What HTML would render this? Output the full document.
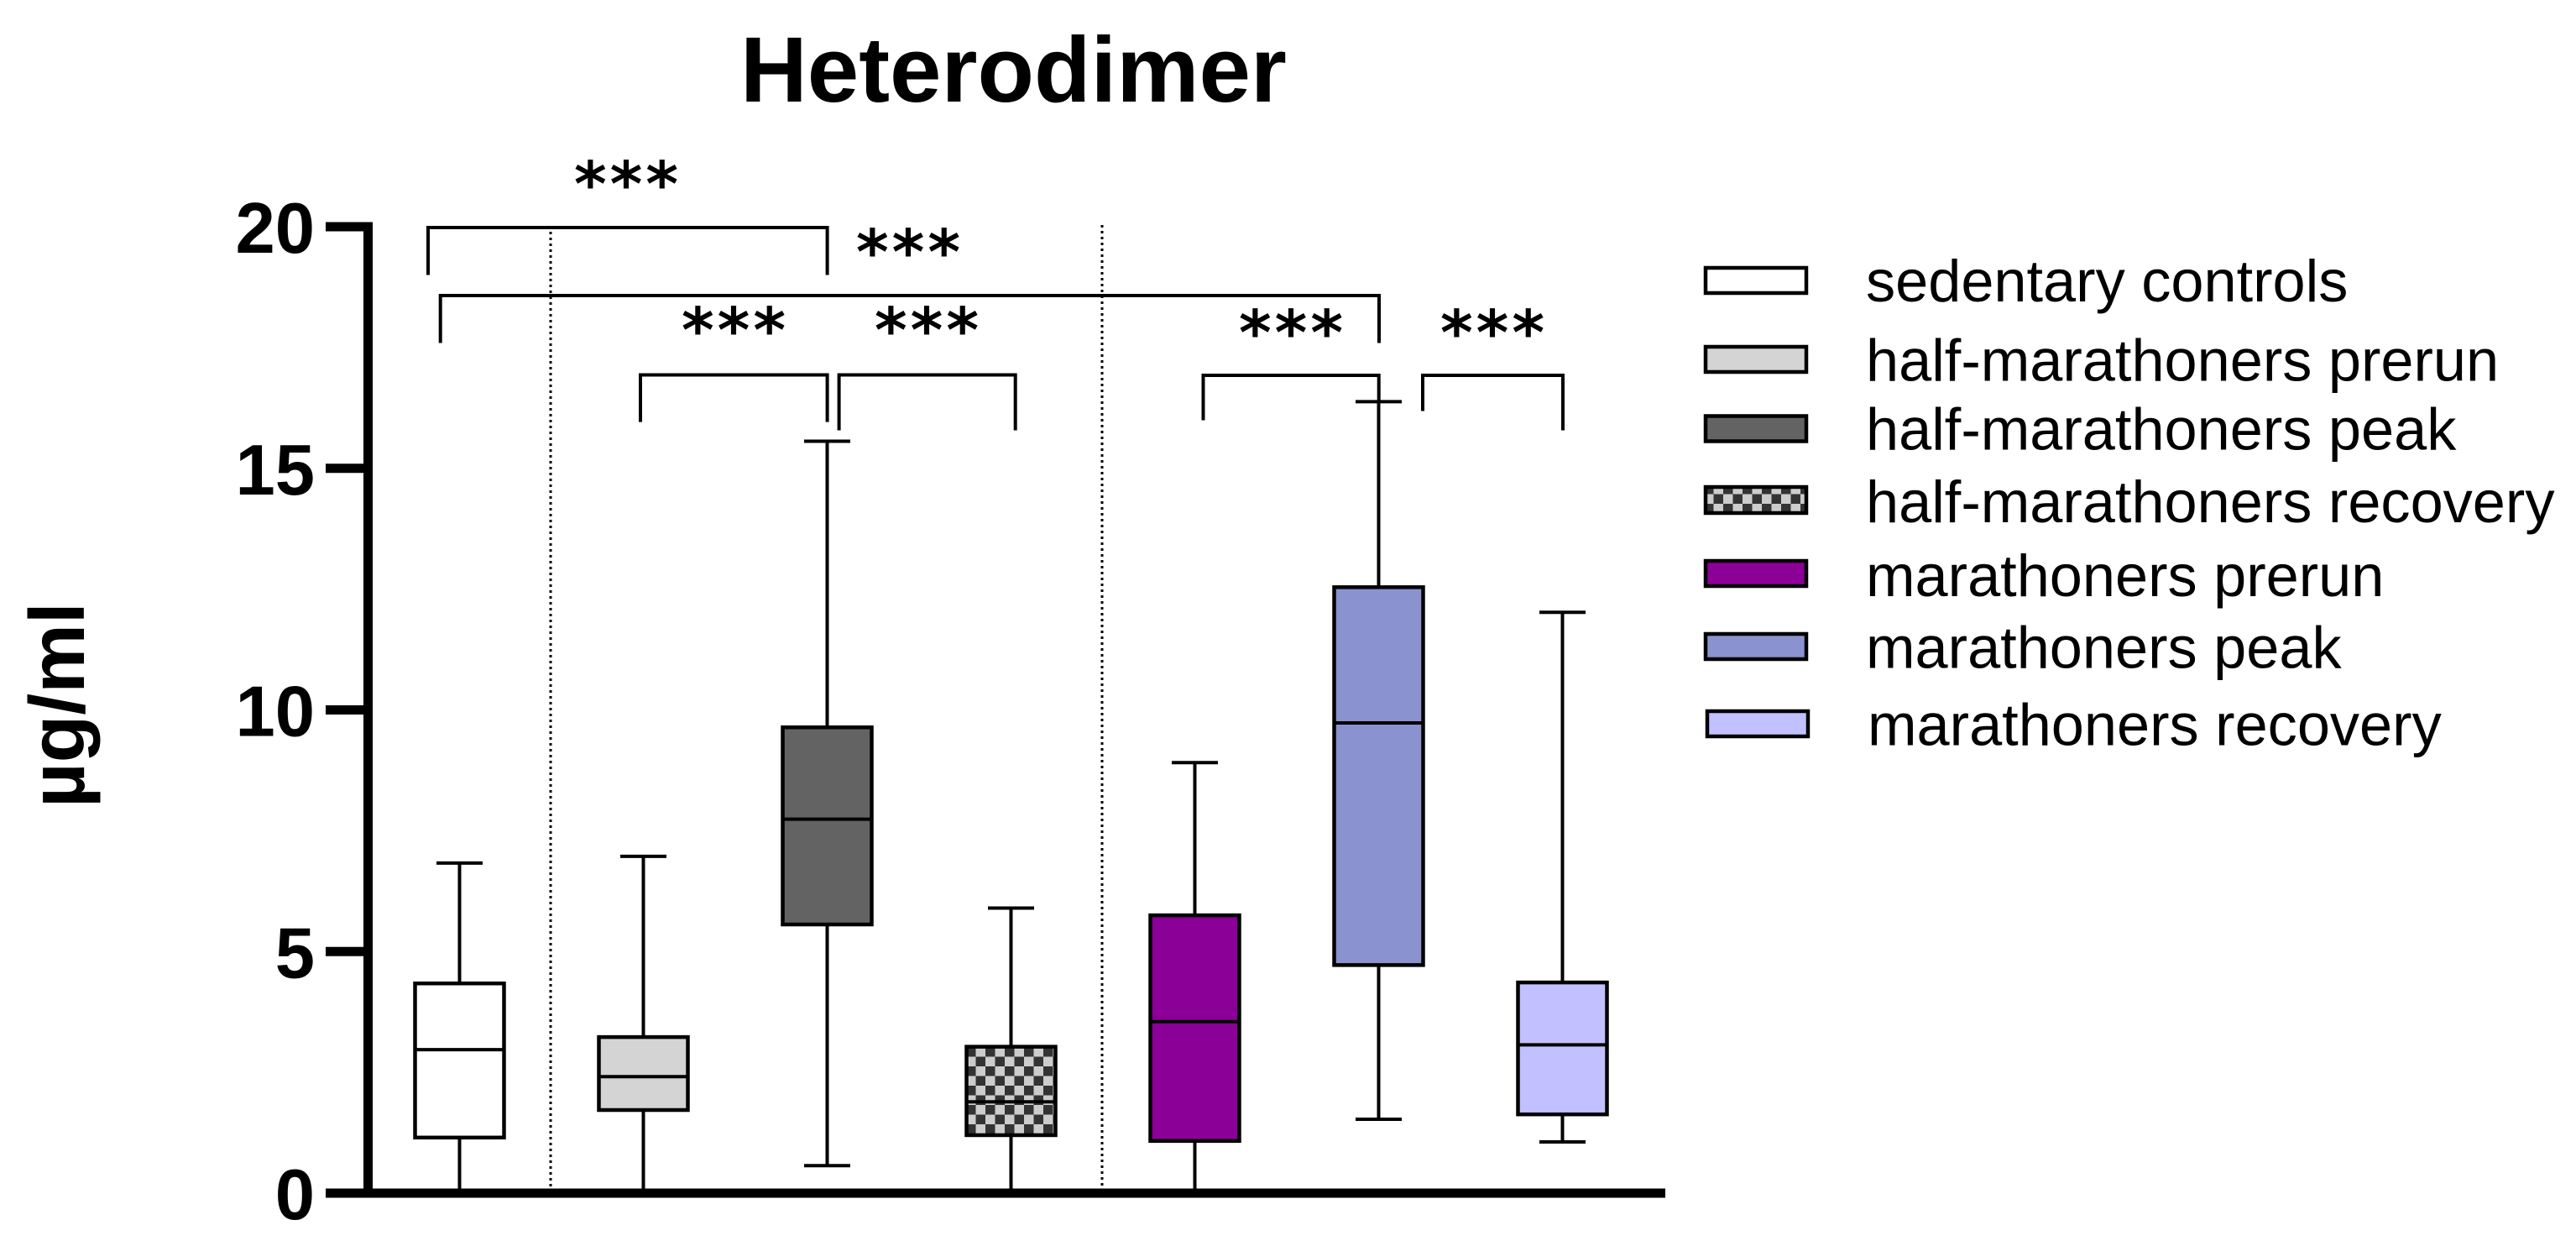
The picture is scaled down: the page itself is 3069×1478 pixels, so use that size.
<!DOCTYPE html>
<html lang="en">
<head>
<meta charset="utf-8">
<title>Heterodimer</title>
<style>
html,body{margin:0;padding:0;background:#fff;}
svg{display:block;}
text{font-family:"Liberation Sans",Arial,sans-serif;fill:#000;}
.bold{font-weight:bold;}
.lg{font-size:70.3px;}
.swatch{stroke:#000;stroke-width:4.5;}
.sig{font-family:"DejaVu Sans",sans-serif;font-weight:bold;font-size:74px;letter-spacing:4px;text-anchor:middle;}
.bracket{fill:none;stroke:#000;stroke-width:4;}
.fill-0{fill:#ffffff;}
.fill-1{fill:#d4d4d4;}
.fill-2{fill:#636363;}
.fill-3{fill:url(#checker-box);}
.fill-4{fill:#8b0096;}
.fill-5{fill:#8a92cf;}
.fill-6{fill:#c2c0ff;}
</style>
</head>
<body>
<svg id="chart" xmlns="http://www.w3.org/2000/svg" width="3069" height="1478" viewBox="0 0 3069 1478">
  <defs>
    <pattern id="checker-box" patternUnits="userSpaceOnUse" x="1174" y="1247" width="23" height="23">
      <rect width="23" height="23" fill="#cccccc"/>
      <rect width="11.5" height="11.5" fill="#333333"/>
      <rect x="11.5" y="11.5" width="11.5" height="11.5" fill="#333333"/>
    </pattern>
    <pattern id="checker-legend" patternUnits="userSpaceOnUse" x="2030" y="577" width="23" height="23">
      <rect width="23" height="23" fill="#cccccc"/>
      <rect width="11.5" height="11.5" fill="#333333"/>
      <rect x="11.5" y="11.5" width="11.5" height="11.5" fill="#333333"/>
    </pattern>
  </defs>
  <rect width="3069" height="1478" fill="#fff"/>

  <text class="bold" x="882" y="121" font-size="110.5">Heterodimer</text>
  <text class="bold" font-size="93" transform="translate(100 962) rotate(-90)">µg/ml</text>

  <g id="dividers">
    <line x1="656" y1="276" x2="656" y2="1416" stroke="#000" stroke-width="3" stroke-dasharray="3 4"/>
    <line x1="1313" y1="268" x2="1313" y2="1416" stroke="#000" stroke-width="3" stroke-dasharray="3 4"/>
  </g>

  <g id="boxes"></g>
  <g id="axes"></g>

  <g>
    <path class="bracket" d="M510 327.5V271H985.6V327.5"/>
    <path class="bracket" d="M524.7 408.5V352H1643V408.5"/>
    <path class="bracket" d="M763 502.6V446.5H985.6V502.6"/>
    <path class="bracket" d="M999.6 512.5V446.5H1209.7V512.5"/>
    <path class="bracket" d="M1433.5 500.5V447H1642.7V480"/>
    <path class="bracket" d="M1695 489.5V447H1862V512.5"/>
    <text class="sig" x="748" y="245">***</text>
    <text class="sig" x="1084" y="326">***</text>
    <text class="sig" x="876" y="419">***</text>
    <text class="sig" x="1106" y="419">***</text>
    <text class="sig" x="1540" y="422">***</text>
    <text class="sig" x="1780" y="422">***</text>
  </g>

  <g>
    <g>
      <rect class="swatch" x="2032" y="319" width="120" height="30" fill="#ffffff"/>
      <text class="lg" x="2223" y="359">sedentary controls</text>
    </g>
    <g>
      <rect class="swatch" x="2032" y="413" width="120" height="30" fill="#d4d4d4"/>
      <text class="lg" x="2223" y="453.5">half-marathoners prerun</text>
    </g>
    <g>
      <rect class="swatch" x="2032" y="495.5" width="120" height="30" fill="#636363"/>
      <text class="lg" x="2223" y="535.5">half-marathoners peak</text>
    </g>
    <g>
      <rect class="swatch" x="2032" y="580" width="120" height="31" fill="url(#checker-legend)"/>
      <text class="lg" x="2223" y="622">half-marathoners recovery</text>
    </g>
    <g>
      <rect class="swatch" x="2032" y="668" width="120" height="30" fill="#8b0096"/>
      <text class="lg" x="2223" y="710">marathoners prerun</text>
    </g>
    <g>
      <rect class="swatch" x="2032" y="755" width="120" height="30" fill="#8a92cf"/>
      <text class="lg" x="2223" y="795.5">marathoners peak</text>
    </g>
    <g>
      <rect class="swatch" x="2034" y="847" width="120" height="30" fill="#c2c0ff"/>
      <text class="lg" x="2225" y="887.5">marathoners recovery</text>
    </g>
  </g>
</svg>
<script>
const categories = ["sedentary-controls","half-marathoners-prerun","half-marathoners-peak","half-marathoners-recovery","marathoners-prerun","marathoners-peak","marathoners-recovery"];
const whiskerHigh = [6.83,6.97,15.56,5.9,8.91,16.38,12.02];
const q3Values = [4.34,3.23,9.64,3.03,5.75,12.54,4.36];
const medianValues = [2.97,2.41,7.74,1.89,3.55,9.73,3.07];
const q1Values = [1.15,1.72,5.56,1.2,1.08,4.72,1.63];
const whiskerLow = [0,0,0.57,0,0,1.53,1.06];
const yTickValues = [0,5,10,15,20];

const SVG_NS = "http://www.w3.org/2000/svg";
const yScale = v => 1421 - v * 57.55;
const xScale = i => 547.5 + i * 219;
const BOX_HALF = 53;
const CAP_HALF = 27.5;

function make(tag, attrs, parent) {
  const el = document.createElementNS(SVG_NS, tag);
  for (const k in attrs) el.setAttribute(k, attrs[k]);
  parent.appendChild(el);
  return el;
}

const boxesGroup = document.getElementById("boxes");
categories.forEach((name, i) => {
  const cx = xScale(i);
  const g = make("g", {}, boxesGroup);
  
  

  const whisker = make("line", {x1:cx, x2:cx, y1:yScale(whiskerHigh[i]), y2:yScale(whiskerLow[i]), stroke:"#000", "stroke-width":4}, g);
  
  

  const capTop = make("line", {x1:cx-CAP_HALF, x2:cx+CAP_HALF, y1:yScale(whiskerHigh[i]), y2:yScale(whiskerHigh[i]), stroke:"#000", "stroke-width":4}, g);
  
  

  if (whiskerLow[i] > 0) {
    const capLow = make("line", {x1:cx-CAP_HALF, x2:cx+CAP_HALF, y1:yScale(whiskerLow[i]), y2:yScale(whiskerLow[i]), stroke:"#000", "stroke-width":4}, g);
    
    
  }

  const box = make("rect", {x:cx-BOX_HALF, width:BOX_HALF*2, y:yScale(q3Values[i]), height:yScale(q1Values[i])-yScale(q3Values[i]), class:"fill-"+i, stroke:"#000", "stroke-width":4.5}, g);
  
  

  const med = make("line", {x1:cx-BOX_HALF, x2:cx+BOX_HALF, y1:yScale(medianValues[i]), y2:yScale(medianValues[i]), stroke:"#000", "stroke-width":4}, g);
  
  
});

const axesGroup = document.getElementById("axes");
const yAxisLine = make("line", {x1:438.5, x2:438.5, y1:yScale(20)-5.5, y2:yScale(0), stroke:"#000", "stroke-width":11}, axesGroup);



const xAxisLine = make("line", {x1:388, x2:1984, y1:yScale(0), y2:yScale(0), stroke:"#000", "stroke-width":11}, axesGroup);



yTickValues.forEach(v => {
  const y = yScale(v);
  const tick = make("line", {x1:388, x2:438, y1:y, y2:y, stroke:"#000", "stroke-width":11}, axesGroup);
  
  

  const label = make("text", {x:375, y:y+31, "text-anchor":"end", "font-size":85, class:"bold"}, axesGroup);
  label.textContent = String(v);
  
  
});
</script>
</body>
</html>
